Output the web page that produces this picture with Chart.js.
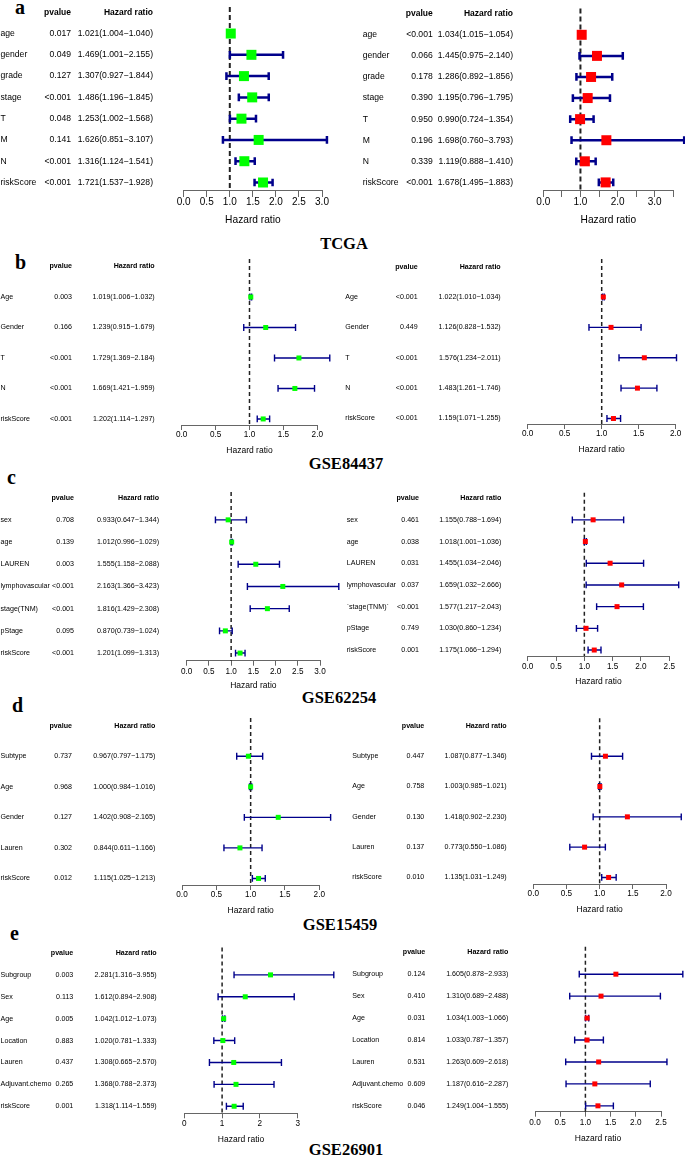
<!DOCTYPE html>
<html>
<head>
<meta charset="utf-8">
<title>Forest plots</title>
<script src="https://cdn.jsdelivr.net/npm/chart.js@4.4.1/dist/chart.umd.min.js"></script>
<style>
  body { margin: 0; background: #fff; }
  #page { position: relative; width: 685px; height: 1156px; overflow: hidden; background: #fff; }
  #page canvas { position: absolute; }
  .cohort { position: absolute; transform: translateX(-50%); font: bold 16.5px "Liberation Serif", "Times New Roman", serif; line-height: 16.5px; white-space: nowrap; color: #000; }
  .tag { position: absolute; font: bold 20px "Liberation Serif", "Times New Roman", serif; line-height: 20px; color: #000; }
</style>
</head>
<body>
<div id="page">
  <div class="tag" style="left:15px;top:-3.5px">a</div>
  <div class="tag" style="left:15px;top:251.5px">b</div>
  <div class="tag" style="left:7px;top:466.5px">c</div>
  <div class="tag" style="left:12px;top:694.7px">d</div>
  <div class="tag" style="left:10px;top:923px">e</div>
  <div class="cohort" style="left:344px;top:235.6px">TCGA</div>
  <div class="cohort" style="left:346px;top:455.6px">GSE84437</div>
  <div class="cohort" style="left:339px;top:689.6px">GSE62254</div>
  <div class="cohort" style="left:340px;top:916.6px">GSE15459</div>
  <div class="cohort" style="left:346px;top:1141.6px">GSE26901</div>
</div>
<script>
// ---------- data (left = univariate, right = multivariate) ----------
let tcgaLabels = ["age", "gender", "grade", "stage", "T", "M", "N", "riskScore"];
let tcgaUniP = ["0.017", "0.049", "0.127", "<0.001", "0.048", "0.141", "<0.001", "<0.001"];
let tcgaUniHR = [1.021, 1.469, 1.307, 1.486, 1.253, 1.626, 1.316, 1.721];
let tcgaUniLow = [1.004, 1.001, 0.927, 1.196, 1.002, 0.851, 1.124, 1.537];
let tcgaUniHigh = [1.040, 2.155, 1.844, 1.845, 1.568, 3.107, 1.541, 1.928];
let tcgaMultiP = ["<0.001", "0.066", "0.178", "0.390", "0.950", "0.196", "0.339", "<0.001"];
let tcgaMultiHR = [1.034, 1.445, 1.286, 1.195, 0.990, 1.698, 1.119, 1.678];
let tcgaMultiLow = [1.015, 0.975, 0.892, 0.796, 0.724, 0.760, 0.888, 1.495];
let tcgaMultiHigh = [1.054, 2.140, 1.856, 1.795, 1.354, 3.793, 1.410, 1.883];

let gse84437Labels = ["Age", "Gender", "T", "N", "riskScore"];
let gse84437UniP = ["0.003", "0.166", "<0.001", "<0.001", "<0.001"];
let gse84437UniHR = [1.019, 1.239, 1.729, 1.669, 1.202];
let gse84437UniLow = [1.006, 0.915, 1.369, 1.421, 1.114];
let gse84437UniHigh = [1.032, 1.679, 2.184, 1.959, 1.297];
let gse84437MultiP = ["<0.001", "0.449", "<0.001", "<0.001", "<0.001"];
let gse84437MultiHR = [1.022, 1.126, 1.576, 1.483, 1.159];
let gse84437MultiLow = [1.010, 0.828, 1.234, 1.261, 1.071];
let gse84437MultiHigh = [1.034, 1.532, 2.011, 1.746, 1.255];

let gse62254UniLabels = ["sex", "age", "LAUREN", "lymphovascular", "stage(TNM)", "pStage", "riskScore"];
let gse62254UniP = ["0.708", "0.139", "0.003", "<0.001", "<0.001", "0.095", "<0.001"];
let gse62254UniHR = [0.933, 1.012, 1.555, 2.163, 1.816, 0.870, 1.201];
let gse62254UniLow = [0.647, 0.996, 1.158, 1.366, 1.429, 0.739, 1.099];
let gse62254UniHigh = [1.344, 1.029, 2.088, 3.423, 2.308, 1.024, 1.313];
let gse62254MultiLabels = ["sex", "age", "LAUREN", "lymphovascular", "`stage(TNM)`", "pStage", "riskScore"];
let gse62254MultiP = ["0.461", "0.038", "0.031", "0.037", "<0.001", "0.749", "0.001"];
let gse62254MultiHR = [1.155, 1.018, 1.455, 1.659, 1.577, 1.030, 1.175];
let gse62254MultiLow = [0.788, 1.001, 1.034, 1.032, 1.217, 0.860, 1.066];
let gse62254MultiHigh = [1.694, 1.036, 2.046, 2.666, 2.043, 1.234, 1.294];

let gse15459Labels = ["Subtype", "Age", "Gender", "Lauren", "riskScore"];
let gse15459UniP = ["0.737", "0.968", "0.127", "0.302", "0.012"];
let gse15459UniHR = [0.967, 1.000, 1.402, 0.844, 1.115];
let gse15459UniLow = [0.797, 0.984, 0.908, 0.611, 1.025];
let gse15459UniHigh = [1.175, 1.016, 2.165, 1.166, 1.213];
let gse15459MultiP = ["0.447", "0.758", "0.130", "0.137", "0.010"];
let gse15459MultiHR = [1.087, 1.003, 1.418, 0.773, 1.135];
let gse15459MultiLow = [0.877, 0.985, 0.902, 0.550, 1.031];
let gse15459MultiHigh = [1.346, 1.021, 2.230, 1.086, 1.249];

let gse26901Labels = ["Subgroup", "Sex", "Age", "Location", "Lauren", "Adjuvant.chemo", "riskScore"];
let gse26901UniP = ["0.003", "0.113", "0.005", "0.883", "0.437", "0.265", "0.001"];
let gse26901UniHR = [2.281, 1.612, 1.042, 1.020, 1.308, 1.368, 1.318];
let gse26901UniLow = [1.316, 0.894, 1.012, 0.781, 0.665, 0.788, 1.114];
let gse26901UniHigh = [3.955, 2.908, 1.073, 1.333, 2.570, 2.373, 1.559];
let gse26901MultiP = ["0.124", "0.410", "0.031", "0.814", "0.531", "0.609", "0.046"];
let gse26901MultiHR = [1.605, 1.310, 1.034, 1.033, 1.263, 1.187, 1.249];
let gse26901MultiLow = [0.878, 0.689, 1.003, 0.787, 0.609, 0.616, 1.004];
let gse26901MultiHigh = [2.933, 2.488, 1.066, 1.357, 2.618, 2.287, 1.555];

let refHR = 1;

// ---------- look ----------
const SANS = "'Liberation Sans', Arial, Helvetica, sans-serif";
const GREEN = "#00FF00";
const RED = "#FF0000";
const WHISKER = "#00008B";
const AXIS_GREY = "#666666";

const bigStyle = {txt: 8.6, head: 8.5, tick: 10, title: 10.2, tickLen: 7, square: 10, lineW: 2.5, cap: 8, dashW: 2, dash: [5, 3]};
const smallStyle = {txt: 7.1, head: 7.1, tick: 8.2, title: 8.5, tickLen: 5, square: 5, lineW: 1.4, cap: 7, dashW: 1.5, dash: [4, 3]};

// page boxes (pixels): canvas box, axis ends, axis line, rows, text columns
const boxes = {
  aL: {left: 0, top: 0, w: 340, h: 230, axL: 183.7, axR: 322, axY: 190, tickY: 202, titleY: 220, row0: 27.5, gap: 22.1, labX: 0.5, pX: 71, hrX: 153},
  aR: {left: 340, top: 0, w: 345, h: 230, axL: 543.3, axR: 673.3, axY: 190, tickY: 202, titleY: 220, row0: 28.8, gap: 21.9, labX: 22.7, pX: 92.7, hrX: 173},
  bL: {left: 0, top: 250, w: 340, h: 208, axL: 181.7, axR: 317.3, axY: 425, tickY: 435, titleY: 450.7, row0: 294, gap: 31.2, labX: 0.5, pX: 72, hrX: 154.7},
  bR: {left: 340, top: 250, w: 345, h: 208, axL: 527.7, axR: 675.7, axY: 424, tickY: 434, titleY: 450, row0: 294, gap: 31.1, labX: 5.3, pX: 77.7, hrX: 160.7},
  cL: {left: 0, top: 478, w: 340, h: 214, axL: 186.7, axR: 320, axY: 660.7, tickY: 671.7, titleY: 686, row0: 516.7, gap: 22.7, labX: 0.5, pX: 74, hrX: 159},
  cR: {left: 340, top: 478, w: 345, h: 214, axL: 527.7, axR: 669.3, axY: 656, tickY: 666.7, titleY: 682, row0: 516.7, gap: 22.2, labX: 6.7, pX: 79, hrX: 161.3},
  dL: {left: 0, top: 705, w: 340, h: 213, axL: 182, axR: 319.3, axY: 885, tickY: 895, titleY: 910.7, row0: 753.3, gap: 31.25, labX: 0.5, pX: 72, hrX: 155.3},
  dR: {left: 340, top: 705, w: 345, h: 213, axL: 533.3, axR: 666, axY: 884, tickY: 894, titleY: 909.3, row0: 753.3, gap: 31.0, labX: 12.3, pX: 84.3, hrX: 166.7},
  eL: {left: 0, top: 935, w: 340, h: 212, axL: 184.3, axR: 297.7, axY: 1113.3, tickY: 1123.3, titleY: 1139.3, row0: 971.7, gap: 22.4, labX: 0.5, pX: 73.3, hrX: 156.7},
  eR: {left: 340, top: 935, w: 345, h: 212, axL: 535, axR: 661, axY: 1111.7, tickY: 1122.7, titleY: 1138.3, row0: 971, gap: 22.45, labX: 12.3, pX: 85.3, hrX: 168.3}
};

const panels = [
  {box: "aL", style: bigStyle, color: GREEN, axis: {max: 3, step: 0.5, every: 0.5, dec: 1},
   labels: tcgaLabels, p: tcgaUniP, hr: tcgaUniHR, low: tcgaUniLow, high: tcgaUniHigh},
  {box: "aR", style: bigStyle, color: RED, axis: {max: 3.5, step: 0.5, every: 1, dec: 1},
   labels: tcgaLabels, p: tcgaMultiP, hr: tcgaMultiHR, low: tcgaMultiLow, high: tcgaMultiHigh},
  {box: "bL", style: smallStyle, color: GREEN, axis: {max: 2, step: 0.5, every: 0.5, dec: 1},
   labels: gse84437Labels, p: gse84437UniP, hr: gse84437UniHR, low: gse84437UniLow, high: gse84437UniHigh},
  {box: "bR", style: smallStyle, color: RED, axis: {max: 2, step: 0.5, every: 0.5, dec: 1},
   labels: gse84437Labels, p: gse84437MultiP, hr: gse84437MultiHR, low: gse84437MultiLow, high: gse84437MultiHigh},
  {box: "cL", style: smallStyle, color: GREEN, axis: {max: 3, step: 0.5, every: 0.5, dec: 1},
   labels: gse62254UniLabels, p: gse62254UniP, hr: gse62254UniHR, low: gse62254UniLow, high: gse62254UniHigh},
  {box: "cR", style: smallStyle, color: RED, axis: {max: 2.5, step: 0.5, every: 0.5, dec: 1},
   labels: gse62254MultiLabels, p: gse62254MultiP, hr: gse62254MultiHR, low: gse62254MultiLow, high: gse62254MultiHigh},
  {box: "dL", style: smallStyle, color: GREEN, axis: {max: 2, step: 0.5, every: 0.5, dec: 1},
   labels: gse15459Labels, p: gse15459UniP, hr: gse15459UniHR, low: gse15459UniLow, high: gse15459UniHigh},
  {box: "dR", style: smallStyle, color: RED, axis: {max: 2, step: 0.5, every: 0.5, dec: 1},
   labels: gse15459Labels, p: gse15459MultiP, hr: gse15459MultiHR, low: gse15459MultiLow, high: gse15459MultiHigh},
  {box: "eL", style: smallStyle, color: GREEN, axis: {max: 3, step: 1, every: 1, dec: 0},
   labels: gse26901Labels, p: gse26901UniP, hr: gse26901UniHR, low: gse26901UniLow, high: gse26901UniHigh},
  {box: "eR", style: smallStyle, color: RED, axis: {max: 2.5, step: 0.5, every: 0.5, dec: 1},
   labels: gse26901Labels, p: gse26901MultiP, hr: gse26901MultiHR, low: gse26901MultiLow, high: gse26901MultiHigh}
];

function fmt3(v) {
  return v.toFixed(3);
}

// table of names, p values and HR(CI) drawn on the rows of the y scale
function tablePlugin(panel, b, st) {
  return {
    id: "forestTable",
    afterDatasetsDraw(chart) {
      let ctx = chart.ctx;
      let y = chart.scales.y;
      ctx.save();
      ctx.fillStyle = "#000";
      ctx.textBaseline = "middle";
      let hy = y.getPixelForValue(-1);
      ctx.font = "bold " + st.head + "px " + SANS;
      ctx.textAlign = "right";
      ctx.fillText("pvalue", b.pX, hy);
      ctx.fillText("Hazard ratio", b.hrX, hy);
      ctx.font = st.txt + "px " + SANS;
      for (let i = 0; i < panel.labels.length; i++) {
        let py = y.getPixelForValue(i);
        ctx.textAlign = "left";
        ctx.fillText(panel.labels[i], b.labX, py);
        ctx.textAlign = "right";
        ctx.fillText(panel.p[i], b.pX, py);
        ctx.fillText(fmt3(panel.hr[i]) + "(" + fmt3(panel.low[i]) + "\u2212" + fmt3(panel.high[i]) + ")", b.hrX, py);
      }
      ctx.restore();
    }
  };
}

function forest(panel) {
  let b = boxes[panel.box];
  let st = panel.style;
  let ax = panel.axis;
  let canvas = document.createElement("canvas");
  canvas.width = b.w;
  canvas.height = b.h;
  canvas.style.left = b.left + "px";
  canvas.style.top = b.top + "px";
  document.getElementById("page").appendChild(canvas);

  let axisLocal = b.axY - b.top;
  let row0Local = b.row0 - b.top;
  let yMin = (0 - row0Local) / b.gap;
  let yMax = (axisLocal - row0Local) / b.gap;
  let capHalf = st.cap / 2 / b.gap;

  let whiskers = [];
  for (let i = 0; i < panel.hr.length; i++) {
    let lo = panel.low[i], hi = panel.high[i];
    whiskers.push({x: lo, y: i}, {x: hi, y: i}, {x: null, y: null});
    whiskers.push({x: lo, y: i - capHalf}, {x: lo, y: i + capHalf}, {x: null, y: null});
    whiskers.push({x: hi, y: i - capHalf}, {x: hi, y: i + capHalf}, {x: null, y: null});
  }
  let points = panel.hr.map((v, i) => ({x: v, y: i}));

  new Chart(canvas.getContext("2d"), {
    type: "scatter",
    data: {
      datasets: [
        {
          type: "line", data: [{x: refHR, y: -1.25}, {x: refHR, y: yMax}],
          borderColor: "#222", borderWidth: st.dashW, borderDash: st.dash,
          pointRadius: 0, fill: false, order: 3, clip: false
        },
        {
          type: "line", data: whiskers, borderColor: WHISKER, borderWidth: st.lineW,
          borderCapStyle: "butt", pointRadius: 0, fill: false, spanGaps: false, tension: 0,
          order: 2, clip: false
        },
        {
          type: "scatter", data: points, pointStyle: "rect",
          pointRadius: st.square / Math.SQRT2, pointBackgroundColor: panel.color,
          pointBorderWidth: 0, order: 1, clip: false
        }
      ]
    },
    options: {
      responsive: false,
      animation: false,
      events: [],
      devicePixelRatio: 1,
      layout: {padding: {left: b.axL - b.left, right: b.left + b.w - b.axR, top: 0, bottom: 0}},
      plugins: {legend: {display: false}, tooltip: {enabled: false}},
      scales: {
        x: {
          type: "linear", position: "bottom", min: 0, max: ax.max,
          afterFit: function(scale) { scale.height = b.h - axisLocal; },
          border: {display: true, color: AXIS_GREY, width: 1},
          grid: {display: true, drawOnChartArea: false, drawTicks: true, tickLength: st.tickLen, color: AXIS_GREY, lineWidth: 1},
          ticks: {
            stepSize: ax.step, autoSkip: false, maxRotation: 0, color: "#000",
            padding: b.tickY - b.axY - st.tickLen - st.tick / 2,
            font: {family: SANS, size: st.tick, lineHeight: 1},
            callback: function(v) {
              let k = v / ax.every;
              return Math.abs(k - Math.round(k)) < 1e-6 ? v.toFixed(ax.dec) : "";
            }
          },
          title: {
            display: true, text: "Hazard ratio", color: "#000",
            font: {family: SANS, size: st.title, lineHeight: 1},
            padding: {top: 0, bottom: b.top + b.h - b.titleY - st.title / 2}
          }
        },
        y: {type: "linear", display: false, reverse: true, min: yMin, max: yMax, offset: false, grid: {offset: false}}
      }
    },
    plugins: [tablePlugin(panel, b, st)]
  });
}

panels.forEach(forest);
</script>
</body>
</html>
